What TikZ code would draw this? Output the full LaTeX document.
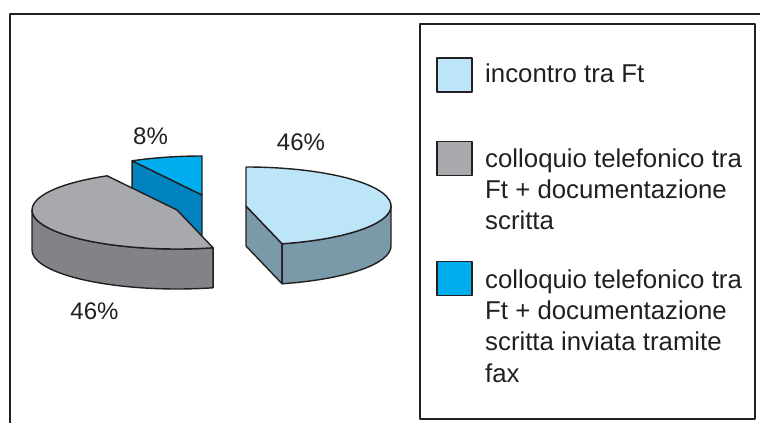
\documentclass[tikz,border=0pt]{standalone}
\usepackage{fontspec}
\setmainfont{Liberation Sans}
\usepackage{xcolor}
\usepackage{tikz}
\usetikzlibrary{positioning}

\definecolor{ink}{HTML}{231F20}
\definecolor{skytop}{HTML}{BDE5F8}
\definecolor{skyside}{HTML}{7B9AA9}
\definecolor{greytop}{HTML}{A7A9AC}
\definecolor{greyside}{HTML}{818386}
\definecolor{cyantop}{HTML}{00AEEF}
\definecolor{cyanside}{HTML}{0083BF}

\begin{document}
\begin{tikzpicture}[x=1pt, y=1pt, line join=round,
  face/.style={draw=ink, line width=1.4pt},
  key/.style={draw=ink, line width=1.3pt, minimum width=35pt, minimum height=34pt, inner sep=0pt},
  keytext/.style={anchor=north west, align=left, inner sep=0pt, text=ink,
    font=\fontsize{25.8}{31.4}\selectfont},
  pct/.style={anchor=base, inner sep=0pt, text=ink, font=\fontsize{24}{28}\selectfont}]
\useasboundingbox (0,0) rectangle (760,423);

% ---------- frames ----------
\draw[ink, line width=1.3pt] (760,409) -- (10,409) -- (10,0);
\draw[ink, line width=1.3pt] (420,399) rectangle (755,4);

% ---------- pie: left block (8% + 46%) ----------
\coordinate (bc) at (202,228);
\coordinate (gc) at (177,213);
\fill[cyanside] (bc) -- ([shift={(bc)}]118.8:145 and 39) -- ++(0,-40) -- ([shift={(bc)}]0,-40) -- cycle;
\draw[face] (bc) -- ([shift={(bc)}]118.8:145 and 39) -- ++(0,-40) -- ([shift={(bc)}]0,-40) -- cycle;
\filldraw[face, fill=cyantop] (bc) -- ([shift={(bc)}]90:145 and 39)
  arc[start angle=90, end angle=118.8, x radius=145, y radius=39] -- cycle;

\filldraw[face, fill=greyside] ([shift={(gc)}]180:145 and 39)
  arc[start angle=180, end angle=284.4, x radius=145, y radius=39] -- ++(0,-40)
  arc[start angle=284.4, end angle=180, x radius=145, y radius=39] -- cycle;
\filldraw[face, fill=greytop] (gc) -- ([shift={(gc)}]118.8:145 and 39)
  arc[start angle=118.8, end angle=284.4, x radius=145, y radius=39] -- cycle;

% ---------- pie: exploded slice (46%) ----------
\coordinate (lc) at (246,217);
\filldraw[face, fill=skyside] (lc) -- ([shift={(lc)}]-75.6:145 and 39) -- ++(0,-40)
  -- ([shift={(lc)}]0,-40) -- cycle;
\filldraw[face, fill=skyside] ([shift={(lc)}]-75.6:145 and 39)
  arc[start angle=-75.6, end angle=0, x radius=145, y radius=39] -- ++(0,-40)
  arc[start angle=0, end angle=-75.6, x radius=145, y radius=39] -- cycle;
\filldraw[face, fill=skytop] (lc) -- ([shift={(lc)}]-75.6:145 and 39)
  arc[start angle=-75.6, end angle=90, x radius=145, y radius=39] -- cycle;

% ---------- percentages ----------
\node[pct] (p8)  at (150.5,278) {8\%};
\node[pct] (p46a) at (301,272) {46\%};
\node[pct] (p46b) at (94.5,103) {46\%};

% ---------- legend ----------
\node[key, fill=skytop]  (s1) at (454.5,348) {};
\node[key, fill=greytop] (s2) at (454.5,264.5) {};
\node[key, fill=cyantop] (s3) at (454.5,144.5) {};
\node[keytext] (l1) at (485,359.5) {incontro tra Ft};
\node[keytext] (l2) at (485,274.8) {colloquio telefonico tra\\Ft + documentazione\\scritta};
\node[keytext] (l3) at (485,153.8) {colloquio telefonico tra\\Ft + documentazione\\scritta inviata tramite\\fax};
\end{tikzpicture}
\end{document}
